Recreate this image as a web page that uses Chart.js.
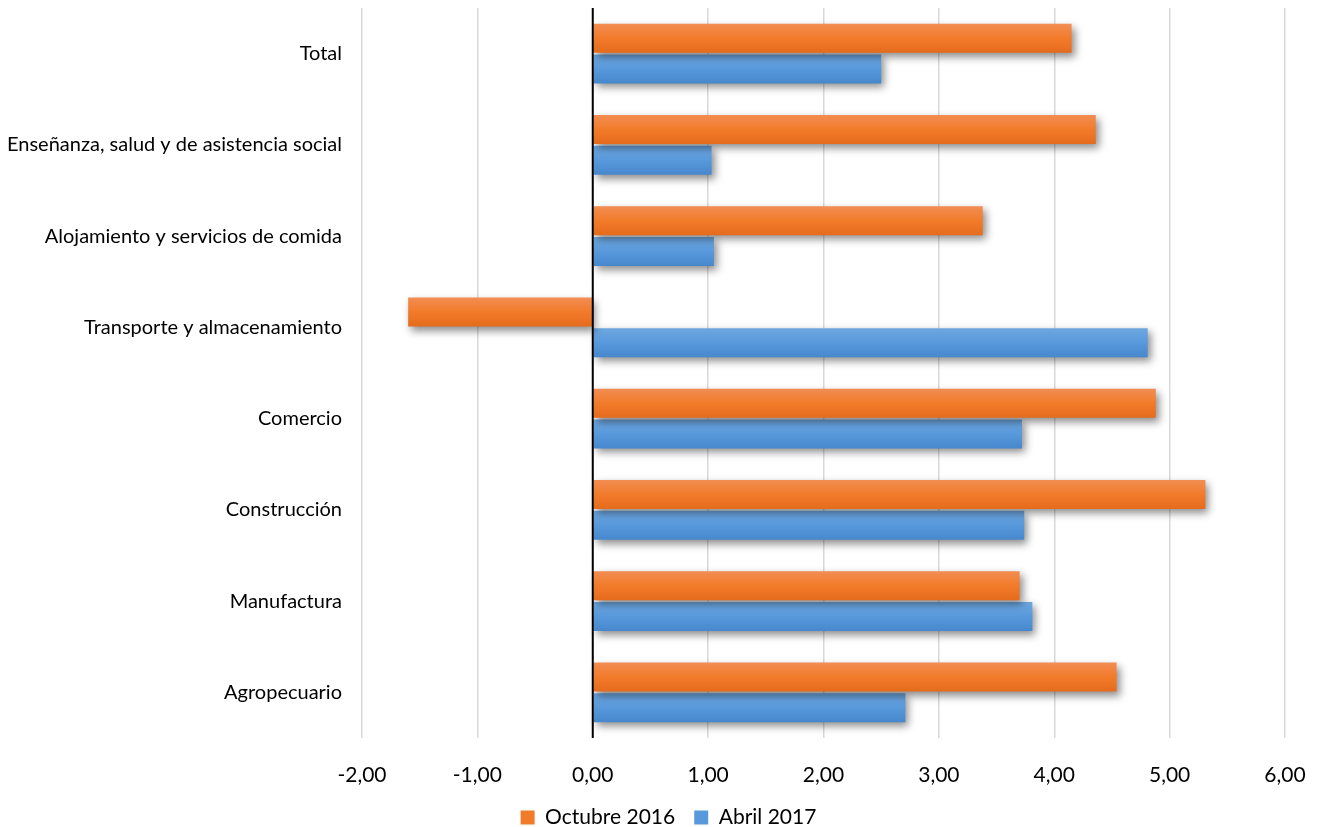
<!DOCTYPE html>
<html>
<head>
<meta charset="utf-8">
<script src="https://cdn.jsdelivr.net/npm/chart.js@4.4.1/dist/chart.umd.min.js"></script>
<style>
  html, body { margin: 0; padding: 0; background: #fff; }
  #wrap { width: 1320px; height: 827px; position: relative; }
</style>
</head>
<body>
<div id="wrap"><canvas id="grafico"></canvas></div>
<script>
// categorias de arriba hacia abajo
const categorias = [
    "Total",
    "Enseñanza, salud y de asistencia social",
    "Alojamiento y servicios de comida",
    "Transporte y almacenamiento",
    "Comercio",
    "Construcción",
    "Manufactura",
    "Agropecuario"
];
const octubre2016 = [4.15, 4.36, 3.38, -1.60, 4.88, 5.31, 3.70, 4.54];
const abril2017   = [2.50, 1.03, 1.05, 4.81, 3.72, 3.74, 3.81, 2.71];
const ejeMin = -2, ejeMax = 6, ejePaso = 1;

const colores = {
    naranja: ["#f28d52", "#f27b2a", "#e56b1c"],
    azul: ["#6ea7e0", "#5899dc", "#4787cc"]
};

// sombra + degradado por barra
const estiloBarras = {
    id: 'estiloBarras',
    afterLayout(chart) {
        // leyenda un poco a la derecha, como en el original
        if (chart.legend) {
            chart.legend.left += 26;
            chart.legend.right += 26;
        }
    },
    beforeDatasetsDraw(chart) {
        const ctx = chart.ctx;
        chart.data.datasets.forEach((ds, i) => {
            const meta = chart.getDatasetMeta(i);
            const c = i === 0 ? colores.naranja : colores.azul;
            meta.data.forEach(el => {
                const top = el.y - el.height / 2;
                const g = ctx.createLinearGradient(0, top, 0, top + el.height);
                g.addColorStop(0, c[0]);
                g.addColorStop(0.5, c[1]);
                g.addColorStop(1, c[2]);
                el.options = Object.assign({}, el.options, { backgroundColor: g });
            });
        });
        ctx.save();
        ctx.shadowColor = 'rgba(0,0,0,0.45)';
        ctx.shadowBlur = 8;
        ctx.shadowOffsetX = 3;
        ctx.shadowOffsetY = 4;
    },
    afterDatasetsDraw(chart) {
        const ctx = chart.ctx;
        ctx.restore();
        // linea del cero
        const x0 = chart.scales.x.getPixelForValue(0);
        ctx.save();
        ctx.strokeStyle = '#000';
        ctx.lineWidth = 2;
        ctx.beginPath();
        ctx.moveTo(x0, chart.chartArea.top);
        ctx.lineTo(x0, chart.chartArea.bottom);
        ctx.stroke();
        ctx.restore();
    }
};

const formatoNum = v => v.toFixed(2).replace('.', ',');

new Chart(document.getElementById('grafico'), {
    type: 'bar',
    data: {
        labels: categorias,
        datasets: [
            { label: 'Octubre 2016', data: octubre2016, backgroundColor: colores.naranja[1] },
            { label: 'Abril 2017', data: abril2017, backgroundColor: colores.azul[1] }
        ]
    },
    options: {
        indexAxis: 'y',
        responsive: true,
        maintainAspectRatio: false,
        animation: false,
        categoryPercentage: 0.67,
        barPercentage: 0.95,
        layout: { padding: { top: 8, right: 35, bottom: 0, left: 0 } },
        scales: {
            x: {
                min: ejeMin, max: ejeMax,
                ticks: {
                    stepSize: ejePaso,
                    callback: v => formatoNum(v),
                    font: { family: 'Lato', size: 21 },
                    color: '#000',
                    padding: 25
                },
                grid: { color: '#d9d9d9', lineWidth: 1.5, drawTicks: false },
                border: { display: false },
                afterFit(scale) {
                    scale.paddingLeft = 0;
                    scale.paddingRight = 0;
                    scale.height = 50;
                }
            },
            y: {
                ticks: {
                    font: { family: 'Lato', size: 20 },
                    color: '#000',
                    padding: 20
                },
                grid: { display: false, drawTicks: false },
                border: { display: false },
                afterFit(scale) {
                    scale.width = 362;
                    scale.paddingTop = 0;
                    scale.paddingBottom = 0;
                }
            }
        },
        plugins: {
            legend: {
                position: 'bottom',
                maxHeight: 39,
                labels: {
                    boxWidth: 14, boxHeight: 14,
                    font: { family: 'Lato', size: 21 },
                    color: '#000',
                    padding: 19
                }
            },
            tooltip: { enabled: false }
        }
    },
    plugins: [estiloBarras]
});
</script>
</body>
</html>
